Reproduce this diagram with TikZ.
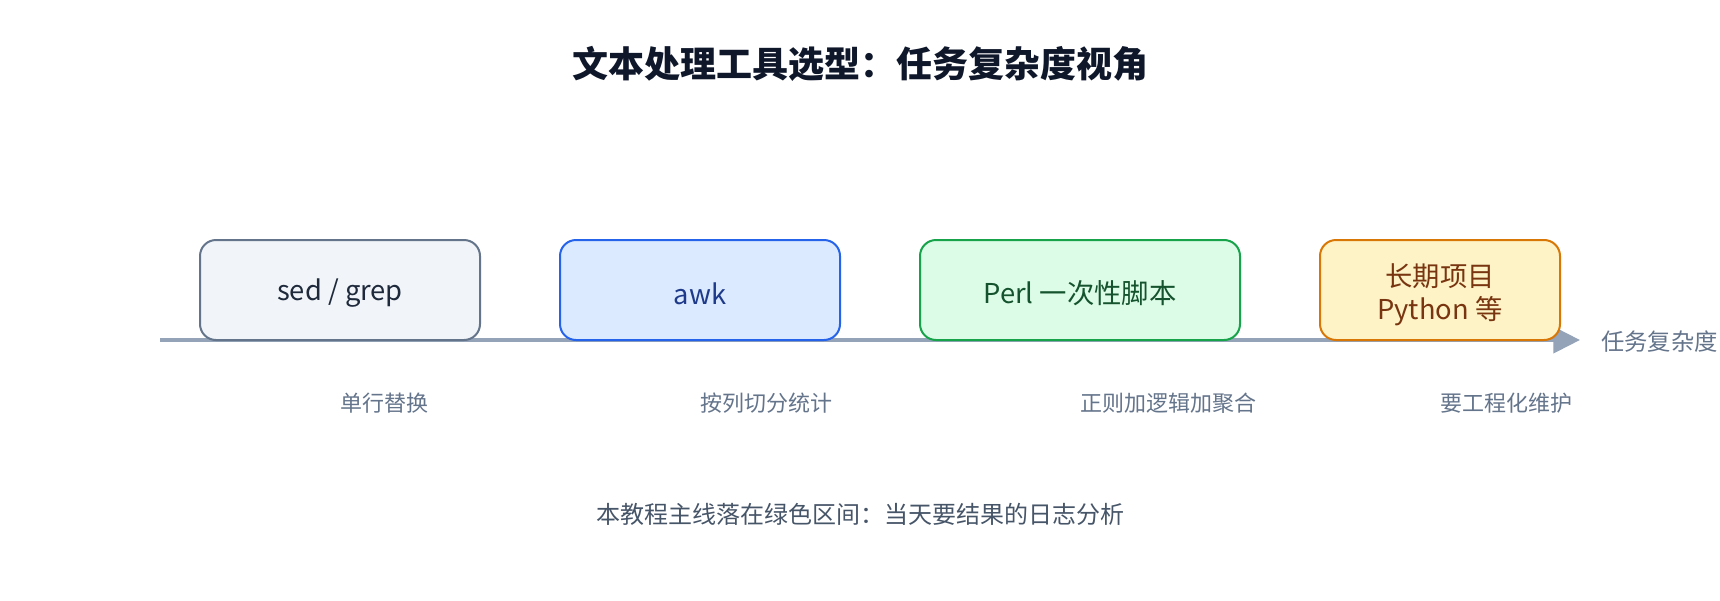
\documentclass[tikz,border=0pt]{standalone}
\usepackage{fontspec}
\setmainfont{Noto Sans CJK SC}
\usetikzlibrary{arrows.meta}
\definecolor{slatebg}{HTML}{F1F5F9}
\definecolor{slatebd}{HTML}{64748B}
\definecolor{slatetx}{HTML}{1E293B}
\definecolor{bluebg}{HTML}{DBEAFE}
\definecolor{bluebd}{HTML}{2563EB}
\definecolor{bluetx}{HTML}{1E3A8A}
\definecolor{greenbg}{HTML}{DCFCE7}
\definecolor{greenbd}{HTML}{16A34A}
\definecolor{greentx}{HTML}{14532D}
\definecolor{ambbg}{HTML}{FEF3C7}
\definecolor{ambbd}{HTML}{D97706}
\definecolor{ambtx}{HTML}{78350F}
\definecolor{axiscol}{HTML}{94A3B8}
\definecolor{labelcol}{HTML}{64748B}
\definecolor{titlecol}{HTML}{0F172A}
\definecolor{notecol}{HTML}{475569}
\newcommand{\lowertext}[2]{\raisebox{-#1}[\height][\depth]{#2}}
\tikzset{
  toolbox/.style={draw, line width=1.5pt, rounded corners=12pt, minimum height=75pt, inner sep=0pt, align=center, font=\fontsize{20.5}{24}\selectfont},
  sublabel/.style={anchor=west, inner sep=0pt, text=labelcol, font=\fontsize{16.5}{20}\selectfont},
  axisline/.style={draw=axiscol, line width=3pt, -{Triangle[length=20pt,width=19.5pt]}}
}
\begin{document}
\begin{tikzpicture}[x=0.75pt,y=-0.75pt]
\useasboundingbox[fill=white] (0,0) rectangle (1720,600);
\node[inner sep=0pt, text=titlecol, font=\fontsize{27}{32}\bfseries] (title) at (860,64) {文本处理工具选型：任务复杂度视角};
\coordinate (axstart) at (160,340);
\coordinate (axend) at (1580,340);
\draw[axisline] (axstart) -- (axend);
\node[toolbox, fill=slatebg, draw=slatebd, text=slatetx, minimum width=210pt] (sed) at (340,290) {\lowertext{2.5pt}{sed / grep}};
\node[toolbox, fill=bluebg, draw=bluebd, text=bluetx, minimum width=210pt] (awk) at (700,290) {\lowertext{2.5pt}{awk}};
\node[toolbox, fill=greenbg, draw=greenbd, text=greentx, minimum width=240pt] (perl) at (1080,290) {\lowertext{2.5pt}{Perl 一次性脚本}};
\node[toolbox, fill=ambbg, draw=ambbd, text=ambtx, minimum width=180pt] (py) at (1440,290) {\lowertext{5pt}{\begin{tabular}{@{}c@{}}长期项目\\Python 等\end{tabular}}};
\node[sublabel] (lsed) at (340,403) {单行替换};
\node[sublabel] (lawk) at (700,403) {按列切分统计};
\node[sublabel] (lperl) at (1080,403) {正则加逻辑加聚合};
\node[sublabel] (lpy) at (1440,403) {要工程化维护};
\node[sublabel, font=\fontsize{17.5}{20}\selectfont] (axlabel) at (1601,342) {任务复杂度};
\node[inner sep=0pt, text=notecol, font=\fontsize{18}{22}\selectfont] (note) at (860,514) {本教程主线落在绿色区间：当天要结果的日志分析};
\end{tikzpicture}
\end{document}
